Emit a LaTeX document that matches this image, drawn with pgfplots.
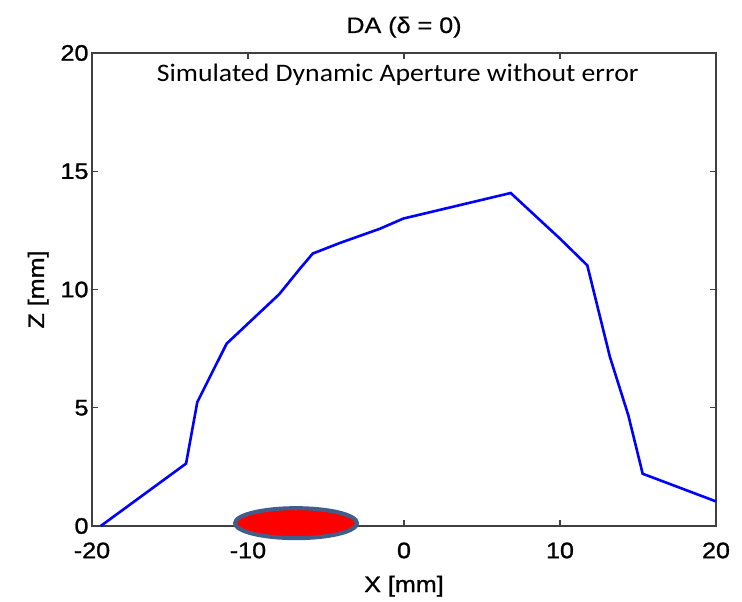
\documentclass[border=0pt]{standalone}
\usepackage{fontspec}
\setmainfont{Liberation Sans}[FakeStretch=1.12]
\newfontfamily\heavyfont{Liberation Sans}[FakeStretch=1.12, FakeBold=1.2]
\newfontfamily\midfont{Liberation Sans}[FakeStretch=1.12, FakeBold=0.6]
\newfontfamily\calibri{Carlito}[FakeStretch=1.1]
\usepackage{pgfplots}
\pgfplotsset{compat=1.18}
\definecolor{axgray}{HTML}{404040}
\definecolor{ellborder}{HTML}{3F5F8A}
\pgfdeclareplotmark{beamell}{\pgfpathellipse{\pgfpointorigin}{\pgfpoint{61bp}{0bp}}{\pgfpoint{0bp}{15bp}}\pgfusepathqfillstroke}
\begin{document}
\begin{tikzpicture}
\begin{axis}[
  at={(0,0)}, anchor=south west,
  width=624bp, height=473bp, scale only axis,
  xmin=-20, xmax=20, ymin=0, ymax=20,
  xtick={-20,-10,0,10,20}, ytick={0,5,10,15,20},
  tick align=inside, major tick length=6bp,
  axis line style={axgray, line width=1.2bp},
  every tick/.style={axgray, line width=1.2bp},
  tick label style={font=\heavyfont\fontsize{22.5}{26}\selectfont, black},
  /pgf/number format/assume math mode=true,
  xticklabel style={yshift=-13bp},
  clip=false,
]
\addplot[blue, line width=2.6bp] coordinates {
(-19.44,0) (-13.97,2.64) (-13.25,5.24) (-11.37,7.71) (-8.0,9.8) (-6.67,10.88)
(-5.85,11.52) (-4.1,11.97) (-1.54,12.57) (-0.04,13.0) (6.84,14.08) (10.0,12.15)
(11.75,11.02) (13.2,7.15) (14.38,4.68) (15.3,2.21) (20,1.04)
};
\addplot[only marks, mark=beamell, mark options={fill=red, draw=ellborder, line width=4bp}] coordinates {(-6.92,0.12)};
\node[anchor=base, font=\midfont\fontsize{22.5}{26}\selectfont] at (rel axis cs:0.5,1) [yshift=20bp] {DA (δ = 0)};
\node[anchor=base, font=\heavyfont\fontsize{22.5}{26}\selectfont] at (rel axis cs:0.5,0) [yshift=-66bp] {X [mm]};
\node[xshift=-48bp, rotate=90, anchor=base, font=\heavyfont\fontsize{22.5}{26}\selectfont] at (rel axis cs:0,0.5) {Z [mm]};
\node[anchor=center, font=\calibri\fontsize{25.3}{30}\selectfont] at (axis cs:-0.4,19.06) {Simulated Dynamic Aperture without error};
\end{axis}
\pgfresetboundingbox
\path[use as bounding box] (-92bp,-76bp) rectangle (650bp,526bp);
\end{tikzpicture}
\end{document}
